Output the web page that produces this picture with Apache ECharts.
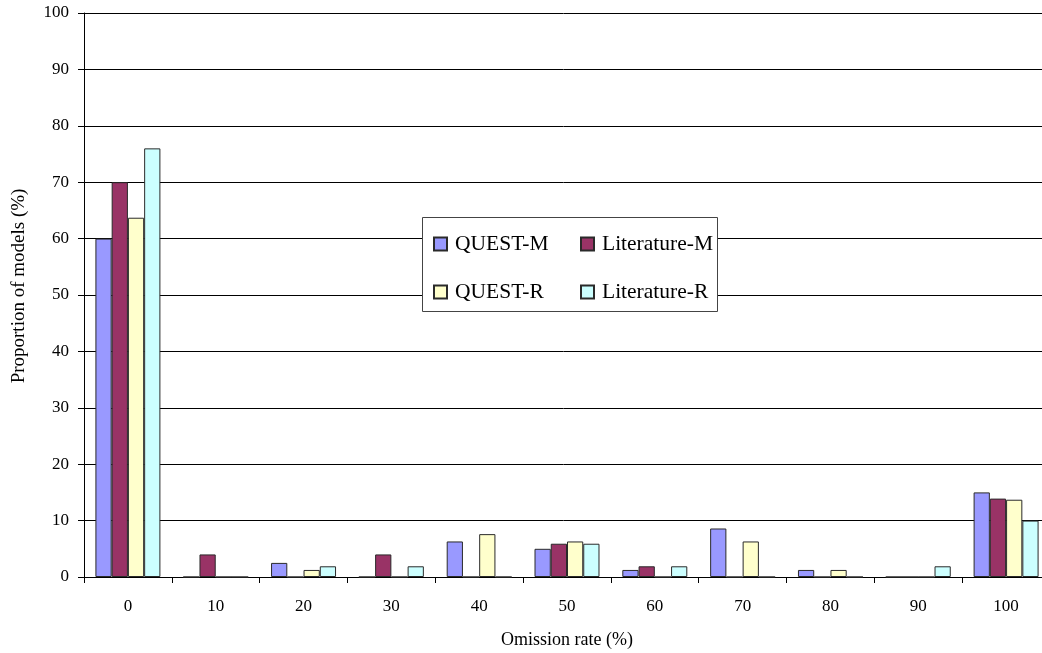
<!DOCTYPE html>
<html>
<head>
<meta charset="utf-8">
<script src="https://cdn.jsdelivr.net/npm/echarts@6/dist/echarts.min.js"></script>
<style>
  html, body { margin: 0; padding: 0; background: #fff; }
  #chart { width: 1042px; height: 653px; }
</style>
</head>
<body>
<div id="chart"></div>
<script>
// Omission rate bins (%)
const categories = ['0', '10', '20', '30', '40', '50', '60', '70', '80', '90', '100'];

// Proportion of models (%) in each omission-rate bin
const questM      = [60, 0, 2.5, 0, 6.3, 5.0, 1.25, 8.6, 1.25, 0, 15];
const literatureM = [70, 4, 0, 4, 0, 5.9, 1.9, 0, 0, 0, 13.9];
const questR      = [63.7, 0, 1.25, 0, 7.6, 6.3, 0, 6.3, 1.25, 0, 13.7];
const literatureR = [76, 0, 1.9, 1.9, 0, 5.9, 1.9, 0, 0, 1.9, 10];

const yTicks = { min: 0, max: 100, interval: 10 };

const serif = "'Liberation Serif', 'Times New Roman', 'DejaVu Serif', serif";

function barSeries(name, values, color) {
  return {
    name: name,
    type: 'bar',
    data: values,
    barGap: '0%',
    barCategoryGap: '26%',
    itemStyle: { color: color, borderColor: '#2a2a2a', borderWidth: 1 },
    emphasis: { disabled: true }
  };
}

// Legend rows share one style; each row is its own component so the columns line up
function legendRow(top, names) {
  return {
    left: 433,
    top: top,
    orient: 'horizontal',
    padding: 0,
    itemGap: 20,
    itemWidth: 13,
    itemHeight: 13,
    icon: 'rect',
    selectedMode: false,
    z: 10,
    data: names,
    textStyle: {
      fontFamily: serif,
      fontSize: 21.5,
      color: '#000',
      lineHeight: 24,
      width: 105,
      padding: [0, 0, 0, 3]
    }
  };
}

const chart = echarts.init(document.getElementById('chart'), null, { renderer: 'canvas' });

chart.setOption({
  backgroundColor: '#ffffff',
  animation: false,
  // the plot runs a little past the right edge of the canvas
  grid: { left: 84, top: 13, width: 966, height: 564, containLabel: false, outerBoundsMode: 'none' },
  graphic: [{
    type: 'rect',
    z: 5,
    shape: { x: 422.5, y: 217.5, width: 295, height: 94 },
    style: { fill: '#ffffff', stroke: '#444', lineWidth: 1 }
  }],
  legend: [
    legendRow(232, ['QUEST-M', 'Literature-M']),
    legendRow(280, ['QUEST-R', 'Literature-R'])
  ],
  xAxis: {
    type: 'category',
    data: categories,
    name: 'Omission rate (%)',
    nameLocation: 'middle',
    nameGap: 54,
    nameTextStyle: { fontFamily: serif, fontSize: 18, color: '#000' },
    axisLine: { lineStyle: { color: '#000', width: 1 } },
    axisTick: { show: true, length: 6, alignWithLabel: false, lineStyle: { color: '#000' } },
    axisLabel: { fontFamily: serif, fontSize: 17, color: '#000', margin: 21 },
    splitLine: { show: false }
  },
  yAxis: {
    type: 'value',
    min: yTicks.min,
    max: yTicks.max,
    interval: yTicks.interval,
    name: 'Proportion of models (%)',
    nameLocation: 'middle',
    nameGap: 55,
    nameTextStyle: { fontFamily: serif, fontSize: 19, color: '#000', padding: [0, 0, 0, 18] },
    axisLine: { show: true, lineStyle: { color: '#000', width: 1 } },
    axisTick: { show: true, length: 6, lineStyle: { color: '#000' } },
    axisLabel: { fontFamily: serif, fontSize: 17, color: '#000', margin: 15 },
    splitLine: { show: true, lineStyle: { color: '#000', width: 1 } }
  },
  series: [
    barSeries('QUEST-M', questM, '#9999FF'),
    barSeries('Literature-M', literatureM, '#993366'),
    barSeries('QUEST-R', questR, '#FFFFCC'),
    barSeries('Literature-R', literatureR, '#CCFFFF')
  ]
});
</script>
</body>
</html>
